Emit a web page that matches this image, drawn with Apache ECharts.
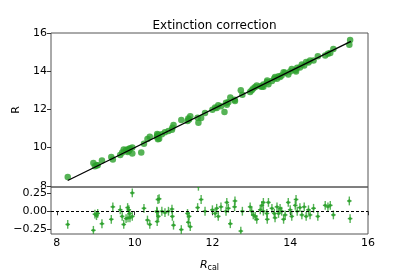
<!DOCTYPE html>
<html>
<head>
<meta charset="utf-8">
<script src="https://cdn.jsdelivr.net/npm/echarts@6/dist/echarts.min.js"></script>
<style>html,body{margin:0;padding:0;background:#fff;}#c{width:409px;height:273px;}</style>
</head>
<body>
<div id="c"></div>
<script>
// R_cal values (x)
const rcal = [8.28,8.94,8.98,9.02,9.05,9.16,9.40,9.44,9.63,9.68,9.72,9.78,9.82,9.85,9.83,9.88,9.87,9.94,9.94,10.17,
  10.24,10.33,10.39,10.58,10.60,10.61,10.63,10.57,10.58,10.70,10.78,10.87,10.96,10.97,11.00,11.20,11.36,11.40,11.38,11.43,
  11.62,11.64,11.71,11.81,12.00,12.07,12.11,12.15,12.22,12.31,12.35,12.37,12.41,12.46,12.57,12.58,12.73,12.77,12.97,13.01,
  13.05,13.10,13.14,13.23,13.27,13.31,13.31,13.40,13.41,13.44,13.53,13.59,13.61,13.66,13.70,13.74,13.78,13.83,13.87,13.95,
  14.00,14.04,14.13,14.15,14.18,14.25,14.30,14.36,14.41,14.47,14.51,14.60,14.71,14.90,14.97,15.03,15.11,15.52,15.54];
// Observed R (top panel y)
const rObs = [8.46,9.20,9.02,9.08,9.08,9.33,9.51,9.38,9.61,9.75,9.90,9.88,9.77,9.83,9.92,9.97,9.90,10.01,9.69,9.75,
  10.20,10.45,10.57,10.59,10.44,10.68,10.46,10.57,10.72,10.70,10.80,10.87,10.93,11.04,11.19,11.45,11.39,11.47,11.53,11.64,
  11.57,11.30,11.55,11.81,11.98,12.10,12.07,12.22,12.16,11.86,12.35,12.25,12.37,12.63,12.51,12.44,13.00,12.77,12.91,13.01,
  13.10,13.17,13.25,13.21,13.19,13.19,13.31,13.43,13.52,13.32,13.49,13.62,13.70,13.60,13.73,13.70,13.78,13.94,13.92,13.83,
  13.98,14.11,14.05,13.99,14.18,14.20,14.35,14.30,14.48,14.45,14.56,14.56,14.78,14.82,14.91,14.95,15.16,15.38,15.64];
// Residuals (bottom panel y)
const resid = [-0.18,-0.26,-0.04,-0.06,-0.03,-0.17,-0.11,0.06,0.02,-0.07,-0.18,-0.10,0.05,0.02,-0.09,-0.09,-0.03,-0.07,0.25,0.42,
  0.04,-0.12,-0.18,-0.01,0.16,-0.07,0.17,0.00,-0.14,0.00,-0.02,0.00,0.03,-0.07,-0.19,-0.25,-0.03,-0.07,-0.15,-0.21,
  0.05,0.34,0.16,0.00,0.02,-0.03,0.04,-0.07,0.06,0.45,0.00,0.12,0.04,-0.17,0.06,0.14,-0.27,0.00,0.06,0.00,
  -0.05,-0.07,-0.11,0.02,0.08,0.12,0.00,-0.03,-0.11,0.12,0.04,-0.03,-0.09,0.06,-0.03,0.04,0.00,-0.11,-0.05,0.12,
  0.02,-0.07,0.08,0.16,0.00,0.05,-0.05,0.06,-0.07,0.02,-0.05,0.04,-0.07,0.08,0.06,0.08,-0.05,0.14,-0.10];
const errX = 0.06;
const errY = 0.06;
// one-to-one line
const lineX = [8.28, 15.56];
const lineY = [8.28, 15.56];
const xTicks = [8, 10, 12, 14, 16];
const yTicksTop = [8, 10, 12, 14, 16];
const yTicksBot = [-0.25, 0, 0.25];

const green = '#2ca02c';
const font = 'DejaVu Sans';
const topData = rcal.map((x, i) => [x, rObs[i]]);
const botData = rcal.map((x, i) => [x, resid[i]]);
const lineData = lineX.map((x, i) => [x, lineY[i]]);

const chart = echarts.init(document.getElementById('c'));
const tickLabel = {fontFamily: font, fontSize: 11, color: '#000'};
chart.setOption({
  animation: false,
  title: {text: 'Extinction correction', left: 209.5, textAlign: 'center', top: 15,
    textStyle: {fontFamily: font, fontSize: 12, fontWeight: 'normal', color: '#000'}},
  grid: [
    {left: 51, top: 33, width: 317, height: 154, show: true, borderColor: '#555', borderWidth: 1, backgroundColor: 'transparent'},
    {left: 51, top: 187, width: 317, height: 52, show: true, borderColor: '#555', borderWidth: 1, backgroundColor: 'transparent'}
  ],
  graphic: [
    {type: 'rect', z: 5, shape: {x: 28, y: 187.5, width: 21, height: 4.5}, style: {fill: '#fff'}}
  ],
  xAxis: [
    {type: 'value', gridIndex: 0, min: 7.85, max: 16, axisLine: {show: false}, axisTick: {show: false},
      axisLabel: {show: false}, splitLine: {show: false}},
    {type: 'value', gridIndex: 1, min: 7.85, max: 16, axisLine: {show: false},
      axisTick: {show: true, length: 4, lineStyle: {color: '#333'}, customValues: xTicks},
      axisLabel: {...tickLabel, margin: 4, customValues: xTicks}, splitLine: {show: false},
      name: '{i|R}{s|cal}', nameLocation: 'middle', nameGap: 24,
      nameTextStyle: {rich: {i: {fontFamily: font, fontSize: 11, fontStyle: 'italic', color: '#000'},
        s: {fontFamily: font, fontSize: 8, color: '#000', padding: [6, 0, 0, 0]}}}}
  ],
  yAxis: [
    {type: 'value', gridIndex: 0, min: 7.94, max: 16, z: 1, axisLine: {show: false},
      axisTick: {show: true, length: 4, lineStyle: {color: '#333'}, customValues: yTicksTop},
      axisLabel: {...tickLabel, margin: 4, customValues: yTicksTop}, splitLine: {show: false},
      name: 'R', nameLocation: 'middle', nameGap: 25, nameTextStyle: {fontFamily: font, fontSize: 11, color: '#000'}},
    {type: 'value', gridIndex: 1, min: -0.31, max: 0.33, z: 10, axisLine: {show: false},
      axisTick: {show: true, length: 4, lineStyle: {color: '#333'}, customValues: yTicksBot},
      axisLabel: {...tickLabel, margin: 4, customValues: yTicksBot,
        formatter: v => (v < 0 ? '\u2212' : '') + Math.abs(v).toFixed(2)}, splitLine: {show: false}}
  ],
  series: [
    {type: 'scatter', xAxisIndex: 0, yAxisIndex: 0, data: topData, symbolSize: 6.5,
      itemStyle: {color: green, opacity: 0.8}, z: 2},
    {type: 'line', xAxisIndex: 0, yAxisIndex: 0, data: lineData, symbol: 'none',
      lineStyle: {color: '#000', width: 1.3}, z: 3},
    {type: 'custom', xAxisIndex: 1, yAxisIndex: 1, data: botData, clip: true, z: 3,
      renderItem: function (params, api) {
        const x = api.value(0), y = api.value(1);
        const c = api.coord([x, y]);
        const xa = api.coord([x - errX, y]), xb = api.coord([x + errX, y]);
        const ya = api.coord([x, y - errY]), yb = api.coord([x, y + errY]);
        const st = {stroke: green, lineWidth: 1.4, opacity: 0.8};
        return {type: 'group', children: [
          {type: 'line', shape: {x1: xa[0], y1: c[1], x2: xb[0], y2: c[1]}, style: st},
          {type: 'line', shape: {x1: c[0], y1: ya[1], x2: c[0], y2: yb[1]}, style: st},
          {type: 'circle', shape: {cx: c[0], cy: c[1], r: 1.6}, style: {fill: green, opacity: 0.8}}
        ]};
      },
      markLine: {silent: true, symbol: 'none', label: {show: false},
        lineStyle: {color: '#000', type: [3, 2], width: 1}, data: [{yAxis: 0}]}}
  ]
});
</script>
</body>
</html>
